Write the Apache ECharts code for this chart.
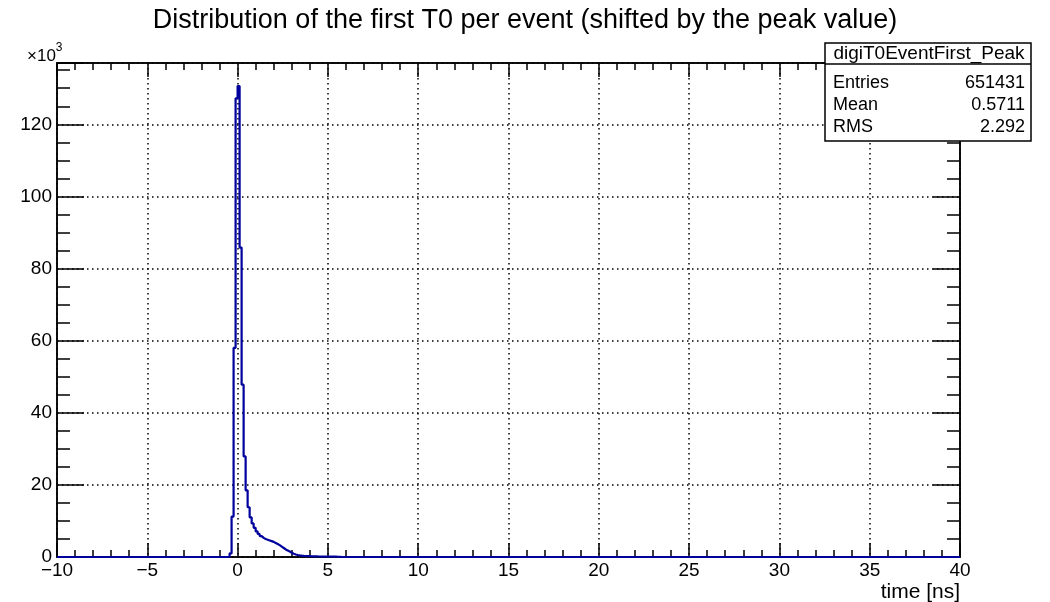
<!DOCTYPE html>
<html><head><meta charset="utf-8">
<script src="https://cdn.jsdelivr.net/npm/echarts@6/dist/echarts.min.js"></script>
<style>html,body{margin:0;padding:0;background:#fff}#c{width:1050px;height:602px}</style>
</head><body><div id="c"></div>
<script>
// ---- data ----
const histMin = -10, histMax = 40, nBins = 450;
const firstFilledBin = 86; // bins before this index are empty
const countsK = [
  1.0, 11.2, 58.0, 127.2, 130.6, 85.8, 47.8, 27.9, 18.5, 13.8,
  11.0, 9.3, 8.1, 7.1, 6.4, 5.8, 5.3, 5.0, 4.8, 4.6,
  4.4, 4.2, 3.9, 3.6, 3.3, 2.9, 2.5, 2.1, 1.8, 1.5,
  1.2, 0.9, 0.7, 0.55, 0.45, 0.38, 0.32, 0.28, 0.25, 0.22,
  0.2, 0.18, 0.17, 0.15, 0.14, 0.13, 0.12, 0.11, 0.1, 0.1,
  0.09, 0.08, 0.08, 0.07, 0.06
];
const yAxisMax = 137;
const xMajor = 5, xMinor = 1, yMajor = 20, yMinor = 5;
const titleText = 'Distribution of the first T0 per event (shifted by the peak value)';
const xTitle = 'time [ns]';
const statsName = 'digiT0EventFirst_Peak';
const statsLabels = ['Entries', 'Mean', 'RMS'];
const statsValues = ['651431', '0.5711', '2.292'];

// ---- build ----
const FONT = '"Liberation Sans", Arial, Helvetica, sans-serif';
const w = (histMax - histMin) / nBins;
const histData = [];
for (let i = 0; i < nBins; i++) {
  const j = i - firstFilledBin;
  const v = (j >= 0 && j < countsK.length) ? countsK[j] : 0;
  histData.push([histMin + i * w, v]);
}
histData.push([histMax, histData[histData.length - 1][1]]);

const black = '#000';
const fmtX = v => v < 0 ? '\u2212' + (-v) : String(v);
function xAx(pos, interval, len, labels, split, z) {
  return {
    type: 'value', min: histMin, max: histMax, interval: interval, position: pos, z: z,
    axisLine: { show: true, onZero: false, lineStyle: { color: black, width: 1.5 } },
    axisTick: { show: true, inside: true, length: len, lineStyle: { color: black, width: 1.5 } },
    axisLabel: { show: labels, formatter: fmtX, fontSize: 19, color: black, fontFamily: FONT, margin: 4 },
    splitLine: { show: split, lineStyle: { color: black, width: 1.5, type: [1.5, 3.5] } }
  };
}
function yAx(pos, interval, len, labels, split, z) {
  return {
    type: 'value', min: 0, max: yAxisMax, interval: interval, position: pos, z: z,
    axisLine: { show: true, onZero: false, lineStyle: { color: black, width: 1.5 } },
    axisTick: { show: true, inside: true, length: len, lineStyle: { color: black, width: 1.5 } },
    axisLabel: { show: labels, fontSize: 19, color: black, fontFamily: FONT, margin: 5,
      formatter: v => (v % yMajor === 0 ? String(v) : '') },
    splitLine: { show: split, lineStyle: { color: black, width: 1.5, type: [1.5, 3.5] } }
  };
}

const chart = echarts.init(document.getElementById('c'), null, { renderer: 'canvas' });
chart.setOption({
  animation: false,
  backgroundColor: '#fff',
  grid: { left: 57, right: 90, top: 63, bottom: 45, containLabel: false },
  xAxis: [
    xAx('bottom', xMajor, 14, true, true, 0),
    xAx('bottom', xMinor, 7, false, false, 0),
    xAx('top', xMajor, 14, false, false, 0),
    xAx('top', xMinor, 7, false, false, 0)
  ],
  yAxis: [
    yAx('left', yMajor, 27, true, true, 0),
    yAx('left', yMinor, 13, false, false, 0),
    yAx('right', yMajor, 27, false, false, 0),
    yAx('right', yMinor, 13, false, false, 0)
  ],
  series: [{
    type: 'line', xAxisIndex: 0, yAxisIndex: 0, step: 'end', data: histData,
    showSymbol: false, symbol: 'none', z: 2,
    lineStyle: { color: '#00009c', width: 2.2 }
  }],
  graphic: [
    { type: 'text', x: 525, y: 21, style: { text: titleText, font: '27px ' + FONT, fill: black, align: 'center', verticalAlign: 'middle' } },
    { type: 'text', x: 27, y: 42, style: { text: '{a|×10}{b|3}', fill: black,
        rich: { a: { font: '17px ' + FONT, verticalAlign: 'bottom', padding: [6, 0, 0, 0] },
                b: { font: '12px ' + FONT, verticalAlign: 'top', padding: [0, 0, 8, 0] } } } },
    { type: 'text', x: 960, y: 592, style: { text: xTitle, font: '21px ' + FONT, fill: black, align: 'right', verticalAlign: 'middle' } },
    { type: 'rect', z: 100, shape: { x: 825, y: 43, width: 206, height: 98 },
      style: { fill: '#fff', stroke: black, lineWidth: 1.5 } },
    { type: 'line', z: 101, shape: { x1: 825, y1: 64, x2: 1031, y2: 64 }, style: { stroke: black, lineWidth: 1.5 } },
    { type: 'text', z: 101, x: 929, y: 54, style: { text: statsName, font: '19px ' + FONT, fill: black, align: 'center', verticalAlign: 'middle' } },
    ...statsLabels.map((t, i) => ({ type: 'text', z: 101, x: 833, y: 83 + i * 22,
        style: { text: t, font: '18px ' + FONT, fill: black, align: 'left', verticalAlign: 'middle' } })),
    ...statsValues.map((t, i) => ({ type: 'text', z: 101, x: 1025, y: 83 + i * 22,
        style: { text: t, font: '18px ' + FONT, fill: black, align: 'right', verticalAlign: 'middle' } }))
  ]
});
</script></body></html>
